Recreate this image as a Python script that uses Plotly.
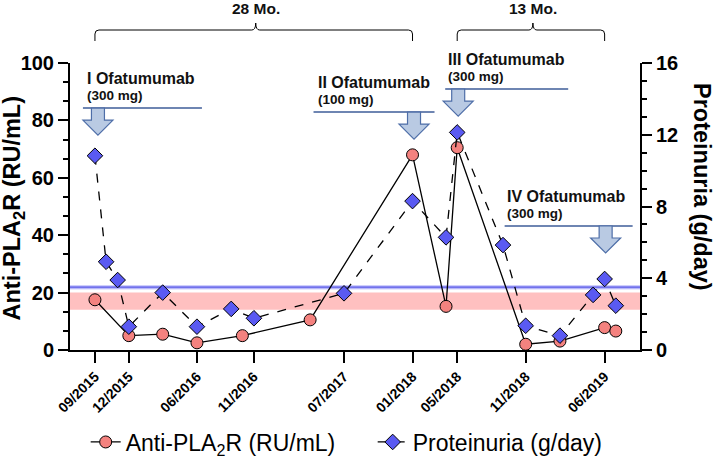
import plotly.graph_objects as go
import pandas as pd

# ---------------- data ----------------
pla2r_dates = ['2015-09-01', '2015-12-01', '2016-03-01', '2016-06-01', '2016-10-01',
               '2017-04-01', '2018-01-01', '2018-04-01', '2018-05-01', '2018-11-01',
               '2019-02-01', '2019-06-01', '2019-07-01']
pla2r_values = [17.5, 5.0, 5.5, 2.5, 5.0, 10.5, 68.0, 15.2, 70.5, 2.0, 3.1, 7.8, 6.6]

prot_dates = ['2015-09-01', '2015-10-01', '2015-11-01', '2015-12-01', '2016-03-01',
              '2016-06-01', '2016-09-01', '2016-11-01', '2017-07-01', '2018-01-01',
              '2018-04-01', '2018-05-01', '2018-09-01', '2018-11-01', '2019-02-01',
              '2019-05-01', '2019-06-01', '2019-07-01']
prot_values = [10.83, 4.92, 3.9, 1.3, 3.2, 1.3, 2.29, 1.77, 3.16, 8.3,
               6.28, 12.13, 5.85, 1.35, 0.8, 3.07, 3.96, 2.47]

tick_dates = ['2015-09-01', '2015-12-01', '2016-06-01', '2016-11-01', '2017-07-01',
              '2018-01-01', '2018-05-01', '2018-11-01', '2019-06-01']
tick_labels = ['09/2015', '12/2015', '06/2016', '11/2016', '07/2017',
               '01/2018', '05/2018', '11/2018', '06/2019']

dose_dates = ['2015-09-01', '2018-01-01', '2018-05-01', '2019-06-01']
dose_titles = ['I Ofatumumab', 'II Ofatumumab', 'III Ofatumumab', 'IV Ofatumumab']
dose_amounts = ['(300 mg)', '(100 mg)', '(300 mg)', '(300 mg)']

interval_starts = ['2015-09-01', '2018-05-01']
interval_ends = ['2018-01-01', '2019-06-01']
interval_labels = ['28 Mo.', '13 Mo.']

pla2r_band = [14, 20]       # RU/mL
prot_threshold = 3.5        # g/day

# ---------------- style / layout ----------------
FONT = 'Liberation Sans'
X_RANGE = ['2015-06-26', '2019-09-04']
W, H = 714, 459
ML, MR, MT, MB = 70, 74, 63, 109
PW = W - ML - MR

dose_level = [84.3, 82.9, 90.9, 43.2]          # y (left axis) of the bar above each arrow
dose_bar_px = [(-12, 107), (-99, 22), (-12, 111), (-100, 28)]
dose_text_px = [-10, -97, -11, -100]
dose_arrow_dx = [3, 1.5, 1, 1]

fig = go.Figure()

fig.add_trace(go.Scatter(
    x=pla2r_dates, y=pla2r_values, name='Anti-PLA<sub>2</sub>R (RU/mL)',
    mode='lines+markers',
    line=dict(color='black', width=1.3),
    marker=dict(symbol='circle', size=12, color='#F4827F', line=dict(color='black', width=1)),
    yaxis='y'))

fig.add_trace(go.Scatter(
    x=prot_dates, y=prot_values, name='Proteinuria (g/day)',
    mode='lines+markers',
    line=dict(color='black', width=1.3, dash='dash'),
    marker=dict(symbol='diamond', size=12, color='#5A5AF2', line=dict(color='black', width=1)),
    yaxis='y2'))

shapes = []
# reference band and threshold line
shapes.append(dict(type='rect', xref='paper', x0=0, x1=1, yref='y', y0=pla2r_band[0], y1=pla2r_band[1],
                   fillcolor='rgba(255,150,150,0.6)', line=dict(width=0), layer='below'))
shapes.append(dict(type='line', xref='paper', x0=0, x1=1, yref='y2', y0=prot_threshold, y1=prot_threshold,
                   line=dict(color='rgba(160,160,250,0.5)', width=4.5), layer='below'))
shapes.append(dict(type='line', xref='paper', x0=0, x1=1, yref='y2', y0=prot_threshold, y1=prot_threshold,
                   line=dict(color='#7272EC', width=2), layer='below'))

annotations = []
for d, t, a, lvl, (b0, b1), tx, dx in zip(dose_dates, dose_titles, dose_amounts, dose_level,
                                           dose_bar_px, dose_text_px, dose_arrow_dx):
    shapes.append(dict(type='line', xref='x', xsizemode='pixel', xanchor=d, x0=b0, x1=b1,
                       yref='y', ysizemode='pixel', yanchor=lvl, y0=0, y1=0,
                       line=dict(color='#3E5C99', width=1.5)))
    path = (f"M {dx-6.5},0 L {dx+6.5},0 L {dx+6.5},-12 L {dx+15},-12 L {dx},-27 "
            f"L {dx-15},-12 L {dx-6.5},-12 Z")
    shapes.append(dict(type='path', xref='x', xsizemode='pixel', xanchor=d,
                       yref='y', ysizemode='pixel', yanchor=lvl, path=path,
                       fillcolor='#B9CAE3', line=dict(color='#4E6EA8', width=1.2)))
    annotations.append(dict(x=d, xref='x', xshift=tx, xanchor='left', y=lvl, yref='y', yshift=30,
                            yanchor='middle', text=t, showarrow=False,
                            font=dict(family=FONT, size=16, weight='bold', color='#111')))
    annotations.append(dict(x=d, xref='x', xshift=tx, xanchor='left', y=lvl, yref='y', yshift=12.5,
                            yanchor='middle', text=a, showarrow=False,
                            font=dict(family=FONT, size=13.5, weight='bold', color='#111')))

# braces for intervals
t0, t1 = pd.Timestamp(X_RANGE[0]), pd.Timestamp(X_RANGE[1])
def frac(d):
    return (pd.Timestamp(d) - t0) / (t1 - t0)

r = 4 / PW
for s, e, lab in zip(interval_starts, interval_ends, interval_labels):
    xa, xb = frac(s), frac(e)
    xm = (xa + xb) / 2 + 2 / PW
    path = (f"M {xa},22 L {xa},29 Q {xa},33 {xa + r},33 L {xm - r},33 Q {xm},33 {xm},40 "
            f"Q {xm},33 {xm + r},33 L {xb - r},33 Q {xb},33 {xb},29 L {xb},22")
    shapes.append(dict(type='path', xref='paper', yref='paper', ysizemode='pixel', yanchor=1,
                       path=path, line=dict(color='black', width=1)))
    annotations.append(dict(x=xm, xref='paper', xanchor='center', y=1, yref='paper', yshift=55,
                            yanchor='middle', text=lab, showarrow=False,
                            font=dict(family=FONT, size=15.5, weight='bold', color='#111')))

# axis titles
annotations.append(dict(x=0, xref='paper', xanchor='center', xshift=-56, y=0.493, yref='paper',
                        yanchor='middle', textangle=-90,
                        text='Anti-PLA<sub>2</sub>R (RU/mL)', showarrow=False,
                        font=dict(family=FONT, size=23.5, weight='bold', color='black')))
annotations.append(dict(x=1, xref='paper', xanchor='center', xshift=62, y=0.568, yref='paper',
                        yanchor='middle', textangle=90,
                        text='Proteinuria (g/day)', showarrow=False,
                        font=dict(family=FONT, size=23.5, weight='bold', color='black')))

axis_common = dict(showgrid=False, zeroline=False, showline=True, linecolor='black', linewidth=2,
                   ticks='outside', tickcolor='black', tickwidth=2)

fig.update_layout(
    width=W, height=H,
    margin=dict(l=ML, r=MR, t=MT, b=MB, autoexpand=False),
    plot_bgcolor='white', paper_bgcolor='white',
    font=dict(family=FONT, color='black'),
    showlegend=True,
    legend=dict(orientation='h', xref='container', x=0.12, xanchor='left',
                yref='container', y=0.037, yanchor='middle',
                entrywidth=242, font=dict(family=FONT, size=23, color='black'),
                bgcolor='rgba(0,0,0,0)'),
    xaxis=dict(type='date', range=X_RANGE, tickvals=tick_dates, ticktext=tick_labels,
               tickangle=-45, tickfont=dict(family=FONT, size=14, weight='bold'),
               ticklen=11, automargin=False, **axis_common),
    yaxis=dict(range=[0, 100], tickvals=[0, 20, 40, 60, 80, 100],
               tickfont=dict(family=FONT, size=20, weight='bold'), ticklen=10, automargin=False,
               minor=dict(tick0=0, dtick=20 / 3, ticks='outside', ticklen=5, tickwidth=2,
                          tickcolor='black', showgrid=False),
               **axis_common),
    yaxis2=dict(range=[0, 16], tickvals=[0, 4, 8, 12, 16], overlaying='y', side='right',
                tickfont=dict(family=FONT, size=20, weight='bold'), ticklen=10, automargin=False,
                minor=dict(tick0=0, dtick=1, ticks='outside', ticklen=5, tickwidth=2,
                           tickcolor='black', showgrid=False),
                **axis_common),
    shapes=shapes,
    annotations=annotations,
)

fig.write_html('out.html', config={'displayModeBar': False},
               post_script="document.body.style.margin='0px';document.body.style.overflow='hidden';")
